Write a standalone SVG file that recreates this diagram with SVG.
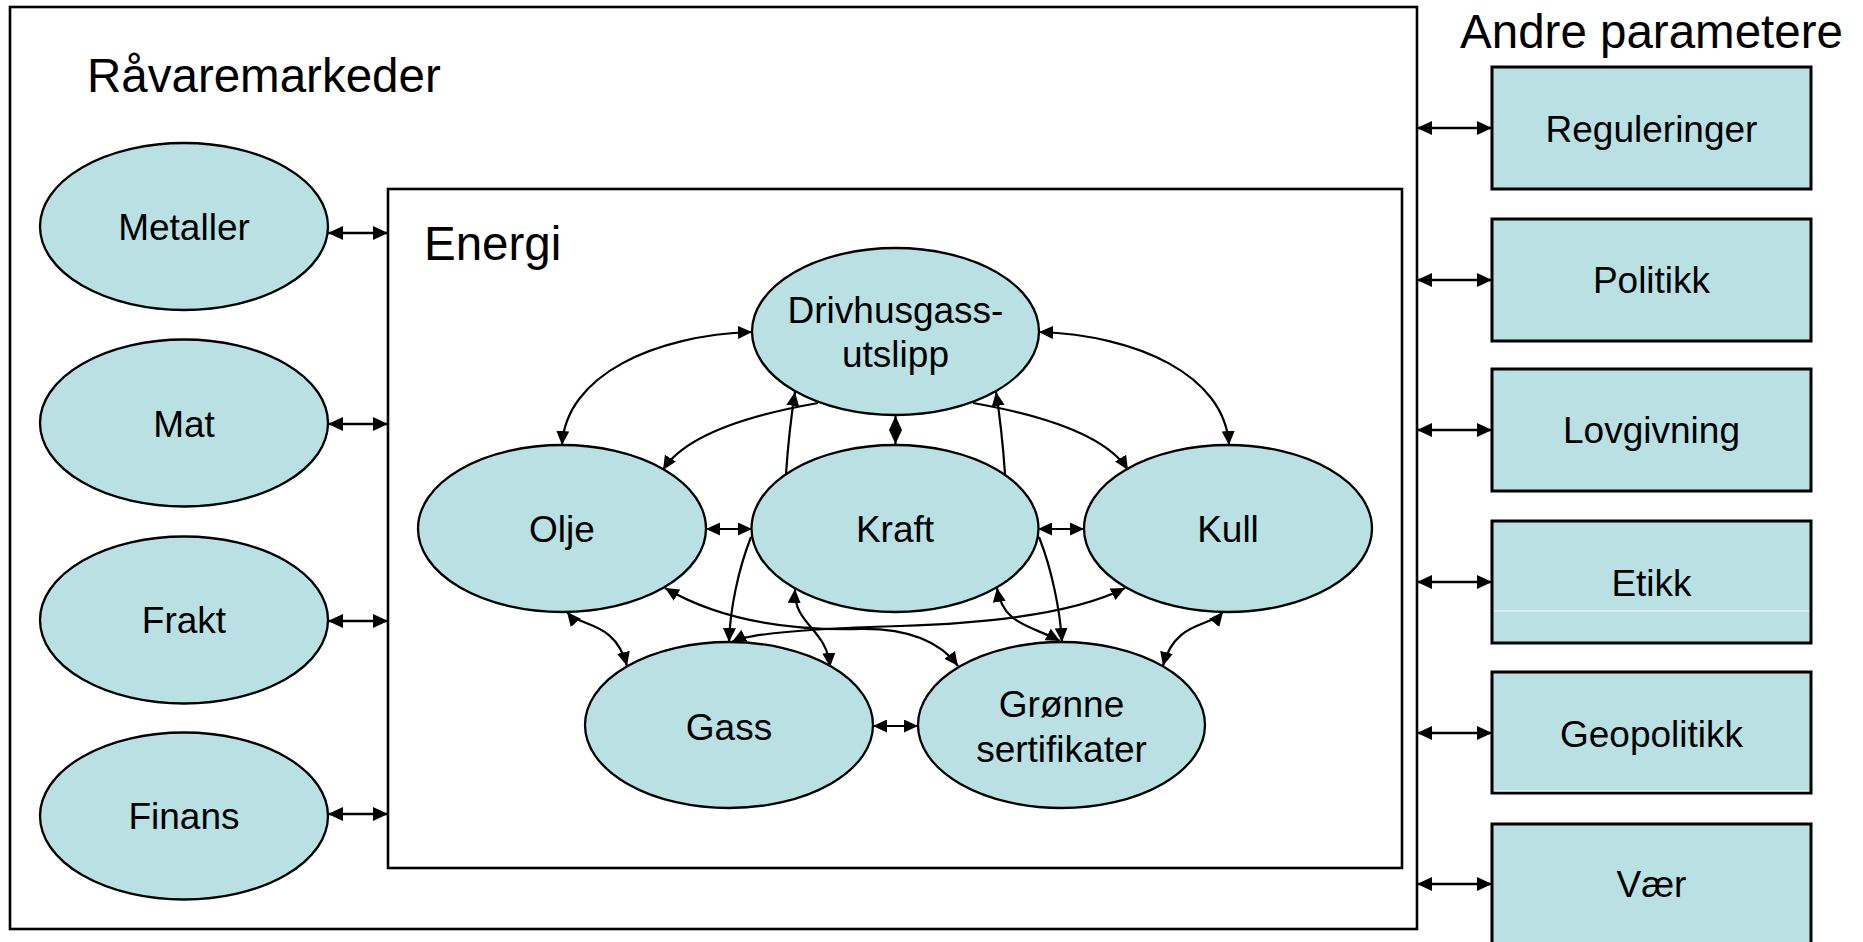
<svg xmlns="http://www.w3.org/2000/svg" width="1863" height="942" viewBox="0 0 1863 942">
  <style>
    .frame { fill: none; stroke: #000; stroke-width: 2.6; }
    .node { fill: #B9E0E3; stroke: #000; stroke-width: 2.3; }
    .box { fill: #B9E0E3; stroke: #000; stroke-width: 3; }
    .title { font-family: "Liberation Sans", Arial, sans-serif; font-size: 47.5px; fill: #000; }
    .lbl { font-family: "Liberation Sans", Arial, sans-serif; font-size: 37px; fill: #000; text-anchor: middle; }
    .link { fill: none; stroke: #000; stroke-width: 2.2; }
    .side { fill: none; stroke: #000; stroke-width: 2.4; }
    .seam { stroke: #ffffff; stroke-width: 1; }
  </style>
  <defs>
    <marker id="ah" viewBox="0 0 14 13" refX="14" refY="6.5" markerWidth="14" markerHeight="13" markerUnits="userSpaceOnUse" orient="auto-start-reverse">
      <path d="M0,0 L14,6.5 L0,13 z" fill="#000"/>
    </marker>
    <marker id="ahL" viewBox="0 0 15 14" refX="15" refY="7" markerWidth="15" markerHeight="14" markerUnits="userSpaceOnUse" orient="auto-start-reverse">
      <path d="M0,0 L15,7 L0,14 z" fill="#000"/>
    </marker>
  </defs>

  <rect width="1863" height="942" fill="#fff"/>

  <!-- market frame and energy frame -->
  <g id="raavaremarkeder">
    <rect class="frame" x="10" y="7" width="1407" height="922"/>
    <text class="title" x="87" y="92">Råvaremarkeder</text>
  </g>
  <g id="energi">
    <rect class="frame" x="388" y="189" width="1014" height="679"/>
    <text class="title" x="424" y="260">Energi</text>
  </g>

  <!-- left market ellipses -->
  <g id="metaller">
    <ellipse class="node" cx="184" cy="226.5" rx="144" ry="83.5"/>
    <text class="lbl" x="184" y="240">Metaller</text>
  </g>
  <g id="mat">
    <ellipse class="node" cx="184" cy="423" rx="144" ry="83.5"/>
    <text class="lbl" x="184" y="437">Mat</text>
  </g>
  <g id="frakt">
    <ellipse class="node" cx="184" cy="620" rx="144" ry="83.5"/>
    <text class="lbl" x="184" y="633">Frakt</text>
  </g>
  <g id="finans">
    <ellipse class="node" cx="184" cy="816" rx="144" ry="83.5"/>
    <text class="lbl" x="184" y="829">Finans</text>
  </g>

  <!-- energy ellipses -->
  <g id="drivhusgass">
    <ellipse class="node" cx="895.5" cy="331.5" rx="143.5" ry="83.5"/>
    <text class="lbl" x="895.5" y="323">Drivhusgass-</text>
    <text class="lbl" x="895.5" y="367">utslipp</text>
  </g>
  <g id="olje">
    <ellipse class="node" cx="562" cy="528.5" rx="144" ry="83.5"/>
    <text class="lbl" x="562" y="542">Olje</text>
  </g>
  <g id="kraft">
    <ellipse class="node" cx="895" cy="528.5" rx="143.5" ry="83.5"/>
    <text class="lbl" x="895" y="542">Kraft</text>
  </g>
  <g id="kull">
    <ellipse class="node" cx="1228" cy="528.5" rx="144" ry="83.5"/>
    <text class="lbl" x="1228" y="542">Kull</text>
  </g>
  <g id="gass">
    <ellipse class="node" cx="729" cy="725" rx="144" ry="83"/>
    <text class="lbl" x="729" y="740">Gass</text>
  </g>
  <g id="gronne">
    <ellipse class="node" cx="1061.5" cy="725" rx="143.5" ry="83"/>
    <text class="lbl" x="1061.5" y="717">Grønne</text>
    <text class="lbl" x="1061.5" y="762">sertifikater</text>
  </g>

  <!-- other parameters -->
  <text class="title" x="1651.5" y="48" text-anchor="middle">Andre parametere</text>
  <g id="reguleringer">
    <rect class="box" x="1492" y="67" width="319" height="122"/>
    <text class="lbl" x="1651.5" y="142">Reguleringer</text>
  </g>
  <g id="politikk">
    <rect class="box" x="1492" y="219" width="319" height="122"/>
    <text class="lbl" x="1651.5" y="293">Politikk</text>
  </g>
  <g id="lovgivning">
    <rect class="box" x="1492" y="369" width="319" height="122"/>
    <text class="lbl" x="1651.5" y="443">Lovgivning</text>
  </g>
  <g id="etikk">
    <rect class="box" x="1492" y="521" width="319" height="122"/>
    <line class="seam" x1="1494" y1="611" x2="1809" y2="611"/>
    <text class="lbl" x="1651.5" y="596">Etikk</text>
  </g>
  <g id="geopolitikk">
    <rect class="box" x="1492" y="672" width="319" height="121"/>
    <line class="seam" x1="1494" y1="791" x2="1809" y2="791"/>
    <text class="lbl" x="1651.5" y="747">Geopolitikk</text>
  </g>
  <g id="vaer">
    <rect class="box" x="1492" y="824" width="319" height="122"/>
    <text class="lbl" x="1651.5" y="897">Vær</text>
  </g>

  <!-- connectors -->
  <g id="connectors">
    <!-- markets to energy -->
    <path class="side" d="M328,233 L388,233" marker-start="url(#ahL)" marker-end="url(#ahL)"/>
    <path class="side" d="M328,424 L388,424" marker-start="url(#ahL)" marker-end="url(#ahL)"/>
    <path class="side" d="M328,621 L388,621" marker-start="url(#ahL)" marker-end="url(#ahL)"/>
    <path class="side" d="M328,814 L388,814" marker-start="url(#ahL)" marker-end="url(#ahL)"/>

    <!-- frame to parameters -->
    <path class="side" d="M1417,128 L1492,128" marker-start="url(#ahL)" marker-end="url(#ahL)"/>
    <path class="side" d="M1417,280 L1492,280" marker-start="url(#ahL)" marker-end="url(#ahL)"/>
    <path class="side" d="M1417,430 L1492,430" marker-start="url(#ahL)" marker-end="url(#ahL)"/>
    <path class="side" d="M1417,582 L1492,582" marker-start="url(#ahL)" marker-end="url(#ahL)"/>
    <path class="side" d="M1417,733 L1492,733" marker-start="url(#ahL)" marker-end="url(#ahL)"/>
    <path class="side" d="M1417,884 L1492,884" marker-start="url(#ahL)" marker-end="url(#ahL)"/>

    <!-- energy network -->
    <path class="link" d="M562,445 C566,375 655,335 752,332" marker-start="url(#ah)" marker-end="url(#ah)"/>
    <path class="link" d="M1039,332 C1136,335 1225,375 1229,445" marker-start="url(#ah)" marker-end="url(#ah)"/>
    <path class="link" d="M818,403 C750,415 685,435 663,470" marker-end="url(#ah)"/>
    <path class="link" d="M973,403 C1041,415 1106,435 1128,470" marker-end="url(#ah)"/>
    <path class="link" d="M895.5,416 L895.5,444" marker-start="url(#ah)" marker-end="url(#ah)"/>
    <path class="link" d="M786,474 Q789,430 795,392" marker-end="url(#ah)"/>
    <path class="link" d="M1005,474 Q1002,430 996,392" marker-end="url(#ah)"/>
    <path class="link" d="M706,529 L752,529" marker-start="url(#ah)" marker-end="url(#ah)"/>
    <path class="link" d="M1038,529 L1084,529" marker-start="url(#ah)" marker-end="url(#ah)"/>
    <path class="link" d="M873,726 L918,726" marker-start="url(#ah)" marker-end="url(#ah)"/>
    <path class="link" d="M751,537 C738,570 730,610 729,642" marker-end="url(#ah)"/>
    <path class="link" d="M1039,537 C1052,570 1060,610 1062,642" marker-end="url(#ah)"/>
    <path class="link" d="M665,588 Q740,632 860,629 Q930,628 958,666" marker-start="url(#ah)" marker-end="url(#ah)"/>
    <path class="link" d="M732,642 Q755,630 900,626 Q1060,621 1125,588" marker-start="url(#ah)" marker-end="url(#ah)"/>
    <path class="link" d="M997,588 C1003,625 1030,625 1060,641" marker-start="url(#ah)" marker-end="url(#ah)"/>
    <path class="link" d="M795,589 C793,625 827,628 830,667" marker-start="url(#ah)" marker-end="url(#ah)"/>
    <path class="link" d="M567,612 C580,628 615,620 627,666" marker-start="url(#ah)" marker-end="url(#ah)"/>
    <path class="link" d="M1223,612 C1210,628 1175,620 1163,666" marker-start="url(#ah)" marker-end="url(#ah)"/>
  </g>
</svg>
